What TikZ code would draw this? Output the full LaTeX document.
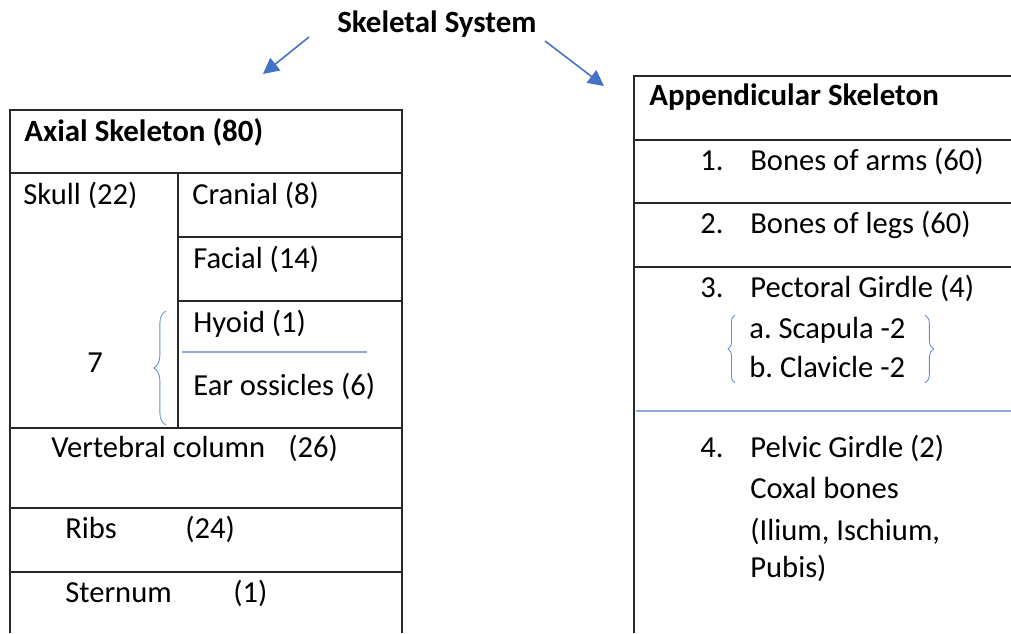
\documentclass[tikz,border=0pt]{standalone}
\usepackage{fontspec}
\setmainfont{Carlito}
\usetikzlibrary{arrows.meta,decorations.pathreplacing}
\definecolor{officeblue}{RGB}{68,114,196}
\definecolor{lightblue}{RGB}{143,170,220}
\definecolor{gridline}{RGB}{40,40,40}
\frenchspacing

\begin{document}
\begin{tikzpicture}[
x=0.02cm, y=-0.02cm,
txt/.style={anchor=base west, inner sep=0pt, font=\fontsize{17.4}{20}\selectfont},
head/.style={txt, font=\fontsize{17.6}{20}\selectfont\bfseries},
grid/.style={gridline, line width=0.6pt},
bluerule/.style={lightblue, line width=0.7pt},
bracket/.style={officeblue!80, line width=0.5pt, decorate},
branch/.style={officeblue, line width=0.9pt, -{Triangle[length=9pt, width=9pt]}}
]

\useasboundingbox (0,0) rectangle (1011,633);

% ================= TOP: TITLE =================
\node[head] (title) at (337,32) {Skeletal System};

\coordinate (axstart) at (309,37);
\coordinate (axtip)   at (263,74);
\coordinate (apstart) at (545,41);
\coordinate (aptip)   at (604,86);

\draw[branch] (axstart) -- (axtip);
\draw[branch] (apstart) -- (aptip);

% ================= LEFT: AXIAL TABLE =================
% Grid
\draw[grid] (10,633) -- (10,110) -- (402,110) -- (402,633);
\draw[grid] (10,173) -- (402,173);
\draw[grid] (178,173) -- (178,428);
\draw[grid] (178,237) -- (402,237);
\draw[grid] (178,301) -- (402,301);
\draw[grid] (10,428) -- (402,428);
\draw[grid] (10,508) -- (402,508);
\draw[grid] (10,572) -- (402,572);
\draw[bluerule] (182,352) -- (367,352);

% Bracket for 7
\draw[bracket, decoration={brace, amplitude=7pt}] (166,425) -- (166,311);

% Entries
\node[head] (axial) at (24,141) {Axial Skeleton (80)};
\node[txt] (skull)    at (23,204) {Skull (22)};
\node[txt] (cranial)  at (192,204) {Cranial (8)};
\node[txt] (facial)   at (193,268) {Facial (14)};
\node[txt] (hyoid)    at (193,332) {Hyoid (1)};
\node[txt] (ear)      at (193,395) {Ear ossicles (6)};
\node[txt] (seven)    at (87,372) {7};
\node[txt] (vert)     at (51,457) {Vertebral column};
\node[txt] (vertn)    at (288,457) {(26)};
\node[txt] (ribs)     at (65,538) {Ribs};
\node[txt] (ribsn)    at (185,538) {(24)};
\node[txt] (sternum)  at (65,602) {Sternum};
\node[txt] (sternumn) at (233,602) {(1)};

% ================= RIGHT: APPENDICULAR TABLE =================
% Grid
\draw[grid] (634,633) -- (634,76) -- (1011,76);
\draw[grid] (634,140) -- (1011,140);
\draw[grid] (634,203) -- (1011,203);
\draw[grid] (634,267) -- (1011,267);
\draw[bluerule] (636,411) -- (1011,411);

% Brackets round the girdle bones
\draw[bracket, decoration={brace, amplitude=4pt}] (735,383) -- (735,315);
\draw[bracket, decoration={brace, amplitude=5pt}] (925,315) -- (925,383);

% Entries
\node[head] (append) at (649,105) {Appendicular Skeleton};
\node[txt] (n1)      at (700,170) {1.};
\node[txt] (arms)    at (750,170) {Bones of arms (60)};
\node[txt] (n2)      at (700,233) {2.};
\node[txt] (legs)    at (750,233) {Bones of legs (60)};
\node[txt] (n3)      at (700,297) {3.};
\node[txt] (pect)    at (750,297) {Pectoral Girdle (4)};
\node[txt] (scapula) at (749,338) {a. Scapula -2};
\node[txt] (clav)    at (749,377) {b. Clavicle -2};
\node[txt] (n4)      at (700,457) {4.};
\node[txt] (pelvic)  at (750,457) {Pelvic Girdle (2)};
\node[txt] (coxal)   at (750,498) {Coxal bones};
\node[txt] (ilium)   at (750,540) {(Ilium, Ischium,};
\node[txt] (pubis)   at (750,577) {Pubis)};

\end{tikzpicture}
\end{document}
